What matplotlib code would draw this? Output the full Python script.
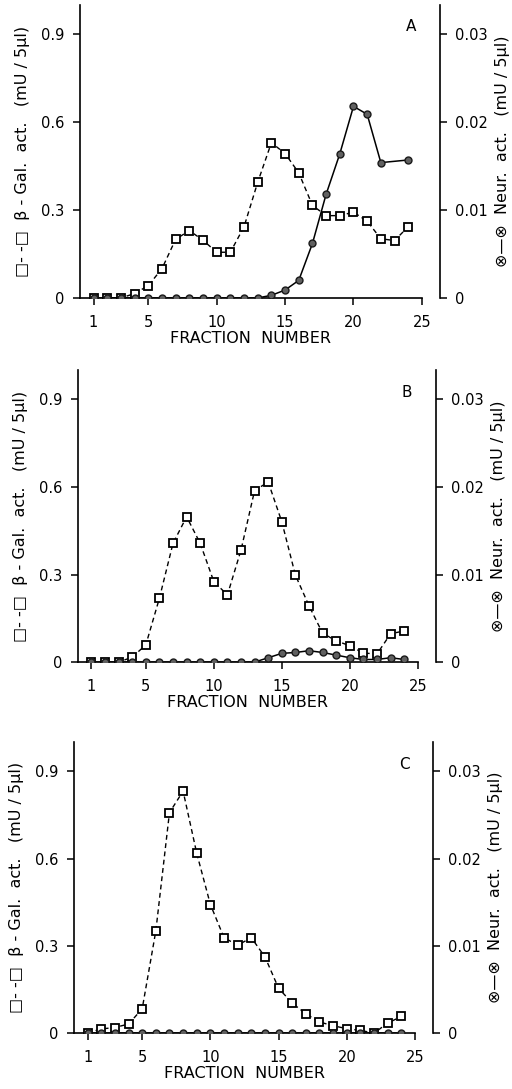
import numpy as np
import matplotlib
matplotlib.use("Agg")
import matplotlib.pyplot as plt

plt.rcParams['font.family'] = ['DejaVu Sans']

fractions = np.arange(1, 25)

# beta-galactosidase activity (mU/5ul), left axis
gal_a = [0, 0, 0, 0.015, 0.042, 0.10, 0.20, 0.23, 0.197, 0.156, 0.156, 0.243,
         0.395, 0.53, 0.493, 0.427, 0.316, 0.281, 0.281, 0.293, 0.262, 0.202, 0.196, 0.243]
gal_b = [0, 0, 0, 0.017, 0.059, 0.219, 0.407, 0.498, 0.407, 0.276, 0.23, 0.384,
         0.588, 0.617, 0.481, 0.298, 0.193, 0.099, 0.073, 0.056, 0.031, 0.028, 0.097, 0.107]
gal_c = [0, 0.014, 0.019, 0.031, 0.083, 0.351, 0.758, 0.832, 0.618, 0.442, 0.328, 0.302,
         0.328, 0.262, 0.154, 0.103, 0.066, 0.038, 0.025, 0.015, 0.009, 0.0, 0.034, 0.057]

# neuraminidase activity (mU/5ul), right axis
neur_a_x = [1, 2, 3, 4, 5, 6, 7, 8, 9, 10, 11, 12, 13, 14, 15, 16, 17, 18, 19, 20, 21, 22, 24]
neur_a = [0, 0, 0, 0, 0, 0, 0, 0, 0, 0, 0, 0, 0, 0.0003, 0.0009, 0.002, 0.0062,
          0.0118, 0.0164, 0.0218, 0.0209, 0.0154, 0.0157]
neur_b = [0, 0, 0, 0, 0, 0, 0, 0, 0, 0, 0, 0, 0, 0.0005, 0.001, 0.0011, 0.0013,
          0.0011, 0.0008, 0.0005, 0.0003, 0.0003, 0.0005, 0.0003]
neur_c = [0] * 24

panels = [
    ("A", fractions, gal_a, neur_a_x, neur_a, [0.156, 0.7264, 0.668, 0.269]),
    ("B", fractions, gal_b, fractions, neur_b, [0.152, 0.392, 0.664, 0.268]),
    ("C", fractions, gal_c, fractions, neur_c, [0.1445, 0.0514, 0.666, 0.267]),
]

fig = plt.figure(figsize=(5.12, 10.89), dpi=100)

for letter, gx, gy, nx, ny, rect in panels:
    ax = fig.add_axes(rect)
    ax2 = ax.twinx()

    ax.plot(gx, gy, color='black', lw=1.0, dashes=(3.5, 2.5), marker='s',
            ms=5.5, mfc='white', mec='black', mew=1.3, zorder=3)
    ax2.plot(nx, ny, color='black', lw=1.1, marker='o', ms=5,
             mfc='#606060', mec='#1a1a1a', mew=1.0, zorder=4)

    ax.set_xlim(0, 25)
    ax.set_ylim(0, 1.0)
    ax2.set_ylim(0, 1.0 / 30)

    ax.set_xticks([1, 5, 10, 15, 20, 25])
    ax.set_yticks([0, 0.3, 0.6, 0.9])
    ax.set_yticklabels(['0', '0.3', '0.6', '0.9'])
    ax2.set_yticks([0, 0.01, 0.02, 0.03])
    ax2.set_yticklabels(['0', '0.01', '0.02', '0.03'])

    for s in ('top', 'right'):
        ax.spines[s].set_visible(False)
    for s in ('top', 'bottom', 'left'):
        ax2.spines[s].set_visible(False)
    ax2.spines['right'].set_position(('axes', 1.053))

    for sp in list(ax.spines.values()) + [ax2.spines['right']]:
        sp.set_linewidth(1.2)

    ax.tick_params(axis='both', direction='out', length=5, width=1.1,
                   labelsize=10.5, pad=7)
    ax.tick_params(axis='y', pad=6)
    ax2.tick_params(axis='y', direction='out', length=5, width=1.1,
                    labelsize=10.5, pad=6)

    ax.set_xlabel('FRACTION  NUMBER', fontsize=11.5, labelpad=1)
    ax.set_ylabel('\u25a1- -\u25a1  \u03b2 - Gal.  act.   (mU / 5\u00b5l)',
                  fontsize=11.5, labelpad=8)
    ax2.set_ylabel('\u2297\u2014\u2297  Neur.  act.   (mU / 5\u00b5l)',
                   fontsize=11.5, labelpad=5)

    ax.text(24.2, 0.925, letter, fontsize=11, ha='center', va='center')

fig.savefig('out.png', dpi=100)
